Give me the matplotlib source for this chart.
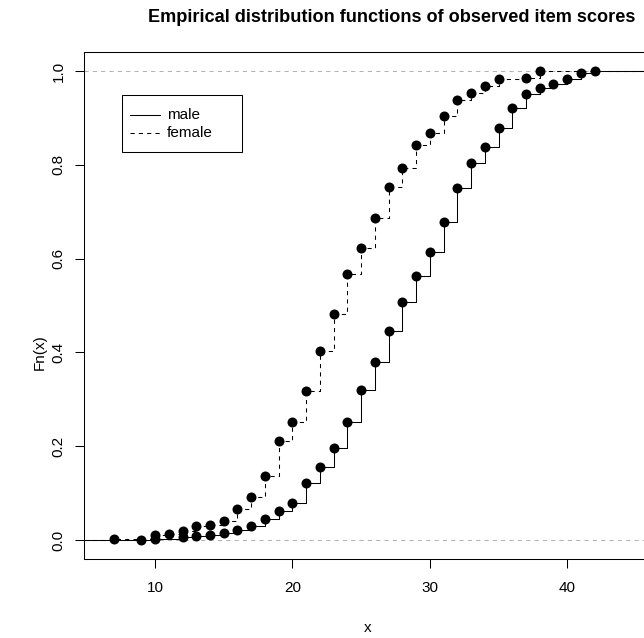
import matplotlib
matplotlib.use('Agg')
import matplotlib.pyplot as plt
from matplotlib.lines import Line2D
from matplotlib.patches import Rectangle

plt.rcParams['font.family'] = ['Liberation Sans', 'DejaVu Sans']

# observed scores and ecdf values
male_x = [9, 10, 12, 13, 14, 15, 16, 17, 18, 19, 20, 21, 22, 23, 24, 25, 26,
          27, 28, 29, 30, 31, 32, 33, 34, 35, 36, 37, 38, 39, 40, 41, 42]
male_fn = [0.001, 0.002, 0.006, 0.008, 0.011, 0.014, 0.021, 0.030, 0.044,
           0.062, 0.078, 0.121, 0.155, 0.197, 0.252, 0.320, 0.380, 0.445,
           0.508, 0.562, 0.613, 0.679, 0.750, 0.803, 0.837, 0.879, 0.922,
           0.950, 0.963, 0.972, 0.983, 0.995, 1.0]

female_x = [7, 10, 11, 12, 13, 14, 15, 16, 17, 18, 19, 20, 21, 22, 23, 24,
            25, 26, 27, 28, 29, 30, 31, 32, 33, 34, 35, 37, 38]
female_fn = [0.002, 0.010, 0.013, 0.020, 0.029, 0.032, 0.041, 0.067, 0.091,
             0.136, 0.211, 0.251, 0.318, 0.402, 0.481, 0.568, 0.622, 0.687,
             0.752, 0.793, 0.843, 0.867, 0.905, 0.938, 0.954, 0.969, 0.982,
             0.984, 1.0]

series_labels = ['male', 'female']
series_styles = ['-', (0, (4, 4))]
x_ticks = [10, 20, 30, 40]
y_ticks = [0.0, 0.2, 0.4, 0.6, 0.8, 1.0]

XLIM = (4.83, 46.17)
YLIM = (-0.04, 1.04)

W, H = 644, 638
FS = 11


def fx(px):
    return px / W


def fy(py):
    return 1 - py / H


fig = plt.figure(figsize=(W / 100, H / 100), dpi=100)
# plot region runs a little past the right edge of the picture (as in the reference)
ax = fig.add_axes([fx(84), fy(558.8), 568 / W, 506.6 / H])

# grey reference lines at 0 and 1
for level in (0, 1):
    ax.axhline(level, color='#b3b3b3', lw=0.75, ls=(0, (4, 4)), zorder=1)


def draw_ecdf(xs, fs, style):
    # extend the step function to the edges of the plot region
    sx = [XLIM[0]] + list(xs) + [XLIM[1]]
    sy = [0] + list(fs) + [fs[-1]]
    ax.step(sx, sy, where='post', color='black', lw=0.75, ls=style, zorder=2)
    ax.plot(xs, fs, 'o', color='black', ms=7.2, mew=0, zorder=3)


draw_ecdf(male_x, male_fn, series_styles[0])
draw_ecdf(female_x, female_fn, series_styles[1])

ax.set_xlim(*XLIM)
ax.set_ylim(*YLIM)
ax.set_xticks(x_ticks)
ax.set_xticklabels([str(t) for t in x_ticks])
ax.set_yticks(y_ticks)
ax.set_yticklabels(['%.1f' % t for t in y_ticks], rotation=90, va='center')
ax.tick_params(axis='both', direction='out', length=6.2, width=0.75,
               labelsize=FS, colors='black')
ax.tick_params(axis='x', pad=10)
ax.tick_params(axis='y', pad=7)
for sp in ax.spines.values():
    sp.set_linewidth(0.75)
    sp.set_color('black')

fig.text(fx(368), fy(628), 'x', ha='center', va='center', fontsize=FS)
fig.text(fx(40), fy(352), 'Fn(x)', ha='center', va='center',
         rotation=90, fontsize=FS)
fig.text(fx(392), fy(18),
         'Empirical distribution functions of observed item scores',
         ha='center', va='center', fontsize=13.1, fontweight='bold')

# legend box drawn by hand, R style
fig.patches.append(Rectangle((fx(122), fy(152)), 120 / W, 57 / H,
                             transform=fig.transFigure, fill=True,
                             facecolor='white', edgecolor='black', lw=0.75,
                             zorder=5))
for i, (lab, st) in enumerate(zip(series_labels, series_styles)):
    row = 115 + 18 * i
    fig.lines.append(Line2D([fx(130), fx(160)], [fy(row), fy(row)],
                            transform=fig.transFigure, color='black',
                            lw=0.75, ls=st, zorder=6))
    fig.text(fx(167), fy(row), lab, ha='left', va='center', fontsize=FS,
             zorder=6)

fig.savefig('out.png', dpi=100)
